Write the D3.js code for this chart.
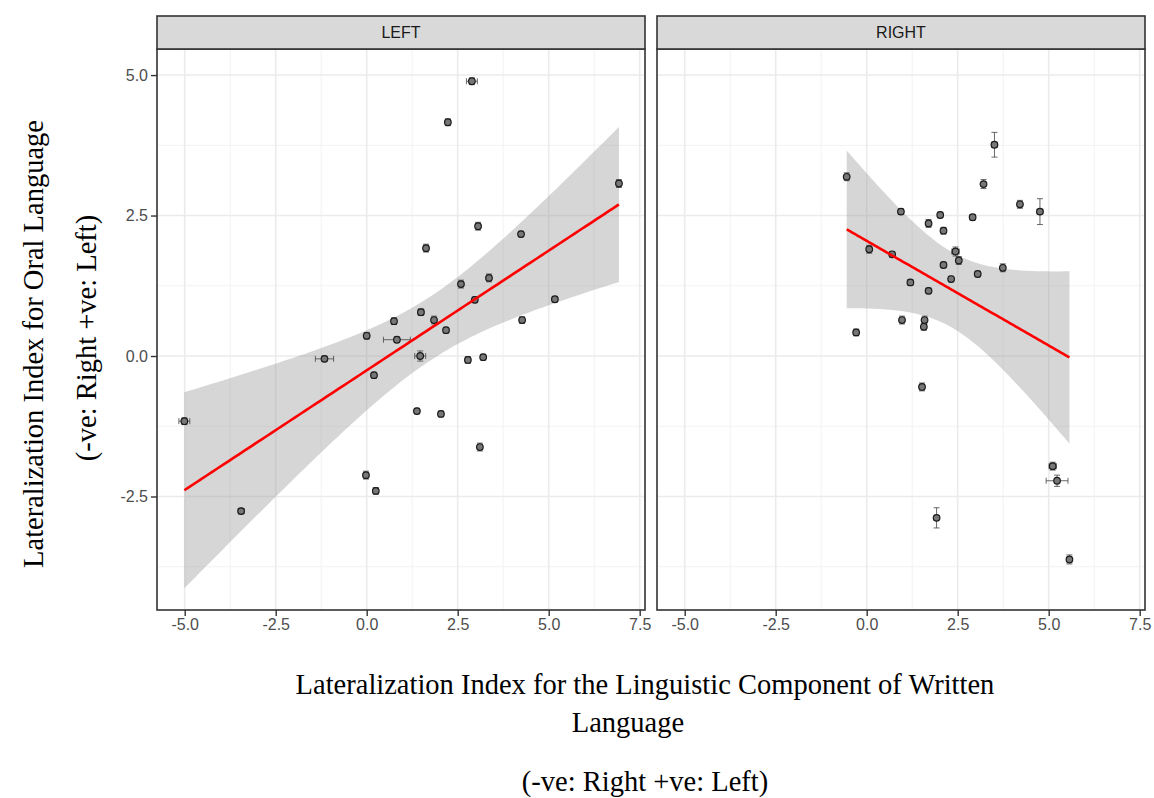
<!DOCTYPE html>
<html><head><meta charset="utf-8">
<script src="https://cdn.jsdelivr.net/npm/d3@7"></script>
<style>body{margin:0;background:#fff} svg{display:block}</style>
</head><body><svg id="c" width="1154" height="798"></svg>
<script>
// ---- data ----
const panelNames = ["LEFT", "RIGHT"];
const xTicks = [-5.0, -2.5, 0.0, 2.5, 5.0, 7.5];
const xMinor = [-3.75, -1.25, 1.25, 3.75, 6.25];
const yTicks = [-2.5, 0.0, 2.5, 5.0];
const yMinor = [-3.75, -1.25, 1.25, 3.75];
const xTickLabels = ["-5.0", "-2.5", "0.0", "2.5", "5.0", "7.5"];
const yTickLabels = ["-2.5", "0.0", "2.5", "5.0"];

const leftX = [-5.01,-3.45,-1.16,0.0,-0.02,0.2,0.25,0.75,0.83,1.47,1.49,1.38,1.63,1.85,2.04,2.18,2.23,2.59,2.78,2.89,2.97,3.06,3.11,3.2,3.36,4.24,4.27,5.17,6.93];
const leftY = [-1.16,-2.76,-0.05,0.36,-2.12,-0.34,-2.40,0.62,0.29,0.0,0.78,-0.98,1.92,0.64,-1.03,0.46,4.16,1.28,-0.07,4.89,1.00,2.31,-1.62,-0.02,1.39,2.17,0.64,1.01,3.07];
const leftXErr = [0.15,0.08,0.25,0.06,0.06,0.05,0.06,0.06,0.37,0.15,0.08,0.05,0.05,0.06,0.05,0.05,0.06,0.05,0.06,0.15,0.05,0.06,0.06,0.05,0.05,0.05,0.05,0.05,0.05];
const leftYErr = [0.06,0.05,0.05,0.06,0.07,0.05,0.06,0.06,0.05,0.09,0.06,0.05,0.07,0.07,0.05,0.05,0.06,0.07,0.06,0.06,0.05,0.07,0.07,0.05,0.07,0.05,0.06,0.05,0.07];

const rightX = [-0.55,-0.29,0.07,0.70,0.94,0.97,1.20,1.52,1.57,1.59,1.70,1.70,1.92,2.02,2.11,2.11,2.32,2.44,2.53,2.91,3.05,3.21,3.51,3.74,4.21,4.76,5.11,5.23,5.57];
const rightY = [3.19,0.42,1.90,1.81,2.57,0.64,1.31,-0.55,0.52,0.64,2.36,1.16,-2.88,2.51,2.23,1.62,1.37,1.86,1.70,2.47,1.46,3.06,3.76,1.57,2.70,2.57,-1.96,-2.22,-3.62];
const rightXErr = [0.05,0.06,0.05,0.05,0.05,0.05,0.05,0.05,0.05,0.05,0.05,0.05,0.06,0.05,0.05,0.05,0.05,0.10,0.05,0.06,0.05,0.05,0.08,0.05,0.05,0.08,0.10,0.30,0.06];
const rightYErr = [0.07,0.06,0.07,0.05,0.05,0.07,0.05,0.07,0.06,0.07,0.07,0.05,0.18,0.05,0.06,0.05,0.05,0.08,0.07,0.05,0.05,0.08,0.22,0.07,0.07,0.23,0.07,0.10,0.08];

const tQuantile975df27 = 2.052;

// ---- layout ----
const svg = d3.select("#c");
const W = 1154, H = 798;
const panelTop = 49, panelBottom = 610, stripTop = 16;
const panelLefts = [157, 657], panelWidth = 488;
const y = d3.scaleLinear().domain([-4.52, 5.464]).range([panelBottom, panelTop]);

function lmBand(xs, ys, n) {
  const N = xs.length;
  const mx = d3.mean(xs), my = d3.mean(ys);
  let sxx = 0, sxy = 0;
  for (let i = 0; i < N; i++) { sxx += (xs[i]-mx)**2; sxy += (xs[i]-mx)*(ys[i]-my); }
  const b = sxy / sxx, a = my - b * mx;
  let sse = 0;
  for (let i = 0; i < N; i++) sse += (ys[i] - a - b*xs[i])**2;
  const s = Math.sqrt(sse / (N - 2));
  const [x0, x1] = d3.extent(xs);
  const out = [];
  for (let k = 0; k < n; k++) {
    const xv = x0 + (x1 - x0) * k / (n - 1);
    const fit = a + b * xv;
    const se = s * Math.sqrt(1/N + (xv-mx)**2 / sxx);
    out.push({x: xv, fit, lo: fit - tQuantile975df27*se, hi: fit + tQuantile975df27*se});
  }
  return out;
}

const datasets = [
  {x: leftX, y: leftY, xe: leftXErr, ye: leftYErr},
  {x: rightX, y: rightY, xe: rightXErr, ye: rightYErr}
];

panelNames.forEach((name, pi) => {
  const L = panelLefts[pi];
  const x = d3.scaleLinear().domain([-5.761, 7.646]).range([L, L + panelWidth]);
  const g = svg.append("g");
  const clipId = "clip" + pi;
  svg.append("clipPath").attr("id", clipId).append("rect")
    .attr("x", L).attr("y", panelTop).attr("width", panelWidth).attr("height", panelBottom - panelTop);
  const pg = g.append("g").attr("clip-path", `url(#${clipId})`);
  pg.append("rect").attr("x", L).attr("y", panelTop).attr("width", panelWidth)
    .attr("height", panelBottom - panelTop).attr("fill", "#fff");
  // grid
  pg.selectAll(".vmin").data(xMinor).join("line").attr("x1", d => x(d)).attr("x2", d => x(d))
    .attr("y1", panelTop).attr("y2", panelBottom).attr("stroke", "#f2f2f2").attr("stroke-width", 1);
  pg.selectAll(".hmin").data(yMinor).join("line").attr("y1", d => y(d)).attr("y2", d => y(d))
    .attr("x1", L).attr("x2", L + panelWidth).attr("stroke", "#f2f2f2").attr("stroke-width", 1);
  pg.selectAll(".vmaj").data(xTicks).join("line").attr("x1", d => x(d)).attr("x2", d => x(d))
    .attr("y1", panelTop).attr("y2", panelBottom).attr("stroke", "#ebebeb").attr("stroke-width", 1.6);
  pg.selectAll(".hmaj").data(yTicks).join("line").attr("y1", d => y(d)).attr("y2", d => y(d))
    .attr("x1", L).attr("x2", L + panelWidth).attr("stroke", "#ebebeb").attr("stroke-width", 1.6);

  const ds = datasets[pi];
  const band = lmBand(ds.x, ds.y, 80);
  pg.append("path").datum(band)
    .attr("d", d3.area().x(d => x(d.x)).y0(d => y(d.lo)).y1(d => y(d.hi)))
    .attr("fill", "#999999").attr("fill-opacity", 0.4);

  const pts = ds.x.map((v, i) => ({x: v, y: ds.y[i], xe: ds.xe[i], ye: ds.ye[i]}));
  const eg = pg.append("g").attr("stroke", "#444").attr("stroke-width", 0.8).attr("fill", "none");
  pts.forEach(p => {
    const cx = x(p.x), cy = y(p.y);
    const xl = x(p.x - p.xe), xr = x(p.x + p.xe), yt = y(p.y + p.ye), yb = y(p.y - p.ye);
    eg.append("line").attr("x1", xl).attr("x2", xr).attr("y1", cy).attr("y2", cy);
    eg.append("line").attr("x1", xl).attr("x2", xl).attr("y1", cy - 3).attr("y2", cy + 3);
    eg.append("line").attr("x1", xr).attr("x2", xr).attr("y1", cy - 3).attr("y2", cy + 3);
    eg.append("line").attr("x1", cx).attr("x2", cx).attr("y1", yt).attr("y2", yb);
    eg.append("line").attr("x1", cx - 3).attr("x2", cx + 3).attr("y1", yt).attr("y2", yt);
    eg.append("line").attr("x1", cx - 3).attr("x2", cx + 3).attr("y1", yb).attr("y2", yb);
  });
  pg.selectAll(".pt").data(pts).join("circle")
    .attr("cx", d => x(d.x)).attr("cy", d => y(d.y)).attr("r", 3.3)
    .attr("fill", "#777").attr("stroke", "#1a1a1a").attr("stroke-width", 1.2);

  pg.append("path").datum(band)
    .attr("d", d3.line().x(d => x(d.x)).y(d => y(d.fit)))
    .attr("fill", "none").attr("stroke", "#ff0000").attr("stroke-width", 2.6);

  // border
  g.append("rect").attr("x", L).attr("y", panelTop).attr("width", panelWidth)
    .attr("height", panelBottom - panelTop).attr("fill", "none").attr("stroke", "#333").attr("stroke-width", 1.6);
  // strip
  g.append("rect").attr("x", L).attr("y", stripTop).attr("width", panelWidth)
    .attr("height", panelTop - stripTop).attr("fill", "#d9d9d9").attr("stroke", "#333").attr("stroke-width", 1.6);
  g.append("text").attr("x", L + panelWidth / 2).attr("y", (stripTop + panelTop) / 2 + 5.5)
    .attr("text-anchor", "middle").attr("font-family", "Liberation Sans, Arial, sans-serif")
    .attr("font-size", 16).attr("fill", "#1a1a1a").text(name);

  // x axis
  const xa = g.append("g").attr("transform", `translate(0,${panelBottom})`)
    .call(d3.axisBottom(x).tickValues(xTicks).tickFormat((d, i) => xTickLabels[i]).tickSize(6).tickPadding(3));
  xa.select(".domain").remove();
  xa.selectAll("line").attr("stroke", "#333").attr("stroke-width", 1.4);
  xa.selectAll("text").attr("font-family", "Liberation Sans, Arial, sans-serif").attr("font-size", 16).attr("fill", "#4d4d4d");

  if (pi === 0) {
    const ya = g.append("g").attr("transform", `translate(${L},0)`)
      .call(d3.axisLeft(y).tickValues(yTicks).tickFormat((d, i) => yTickLabels[i]).tickSize(6).tickPadding(3));
    ya.select(".domain").remove();
    ya.selectAll("line").attr("stroke", "#333").attr("stroke-width", 1.4);
    ya.selectAll("text").attr("font-family", "Liberation Sans, Arial, sans-serif").attr("font-size", 16).attr("fill", "#4d4d4d");
  }
});

// titles
const serif = "Liberation Serif, Times New Roman, serif";
const tsz = 28.5;
svg.append("text").attr("x", 645).attr("y", 694).attr("text-anchor", "middle")
  .attr("font-family", serif).attr("font-size", tsz).attr("fill", "#000")
  .text("Lateralization Index for the Linguistic Component of Written");
svg.append("text").attr("x", 628).attr("y", 732).attr("text-anchor", "middle")
  .attr("font-family", serif).attr("font-size", tsz).attr("fill", "#000").text("Language");
svg.append("text").attr("x", 645).attr("y", 791).attr("text-anchor", "middle")
  .attr("font-family", serif).attr("font-size", tsz).attr("fill", "#000").text("(-ve: Right +ve: Left)");
svg.append("text").attr("transform", "translate(43,344) rotate(-90)").attr("text-anchor", "middle")
  .attr("font-family", serif).attr("font-size", tsz).attr("fill", "#000").text("Lateralization Index for Oral Language");
svg.append("text").attr("transform", "translate(96,338) rotate(-90)").attr("text-anchor", "middle")
  .attr("font-family", serif).attr("font-size", tsz).attr("fill", "#000").text("(-ve: Right +ve: Left)");
</script></body></html>
